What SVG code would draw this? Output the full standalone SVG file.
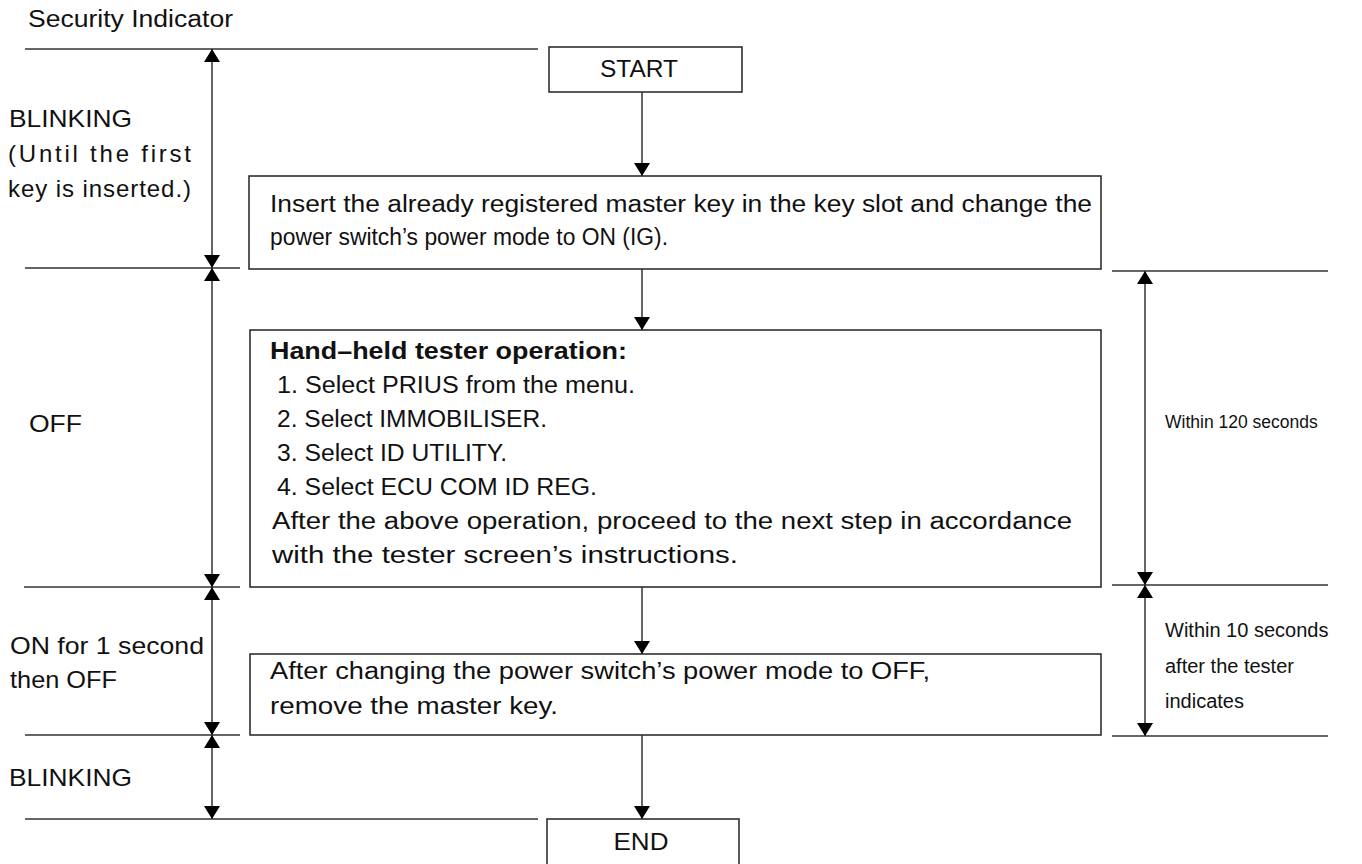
<svg xmlns="http://www.w3.org/2000/svg" width="1362" height="864" viewBox="0 0 1362 864">
<style>
text{font-family:"Liberation Sans",Arial,sans-serif;fill:#111}
.t{font-size:23px}
.l{font-size:24px}
.s{font-size:20px}
.b{font-weight:bold}
.box{fill:#fff;stroke:#222;stroke-width:1.5}
.ln{stroke:#333;stroke-width:1.5;fill:none}
</style>
<defs>
<marker id="ah" viewBox="0 0 13 16" refX="13" refY="8" markerWidth="13" markerHeight="16" markerUnits="userSpaceOnUse" orient="auto-start-reverse">
<path d="M0,0 L13,8 L0,16 Z" fill="#000"/>
</marker>
</defs>
<rect width="1362" height="864" fill="#fff"/>
<g id="labels">
<text class="t" x="28" y="27" textLength="205" lengthAdjust="spacingAndGlyphs">Security Indicator</text>
<text class="l" x="9" y="127" textLength="123" lengthAdjust="spacingAndGlyphs">BLINKING</text>
<text class="l" x="8" y="162" textLength="183" lengthAdjust="spacing">(Until the first</text>
<text class="l" x="8" y="197" textLength="183" lengthAdjust="spacing">key is inserted.)</text>
<text class="l" x="29" y="432" textLength="53" lengthAdjust="spacingAndGlyphs">OFF</text>
<text class="l" x="10" y="654" textLength="194" lengthAdjust="spacingAndGlyphs">ON for 1 second</text>
<text class="l" x="10" y="688" textLength="107" lengthAdjust="spacingAndGlyphs">then OFF</text>
<text class="l" x="9" y="786" textLength="123" lengthAdjust="spacingAndGlyphs">BLINKING</text>
<text class="s" x="1165" y="428" style="font-size:17.5px">Within 120 seconds</text>
<text class="s" x="1165" y="637">Within 10 seconds</text>
<text class="s" x="1165" y="673">after the tester</text>
<text class="s" x="1165" y="708">indicates</text>
</g>
<g id="guides">
<line class="ln" x1="25" y1="49" x2="538" y2="49"/>
<line class="ln" x1="25" y1="268" x2="240" y2="268"/>
<line class="ln" x1="24" y1="587" x2="240" y2="587"/>
<line class="ln" x1="25" y1="735" x2="240" y2="735"/>
<line class="ln" x1="25" y1="819" x2="538" y2="819"/>
<line class="ln" x1="1112" y1="271" x2="1328" y2="271"/>
<line class="ln" x1="1112" y1="585" x2="1328" y2="585"/>
<line class="ln" x1="1112" y1="736" x2="1328" y2="736"/>
</g>
<g id="start">
<rect class="box" x="549" y="47" width="193" height="45"/>
<text class="t" x="639" y="77" text-anchor="middle" textLength="78" lengthAdjust="spacingAndGlyphs">START</text>
</g>
<g id="step1">
<rect class="box" x="249" y="176" width="852" height="93"/>
<text class="t" x="270" y="212" textLength="822" lengthAdjust="spacingAndGlyphs">Insert the already registered master key in the key slot and change the</text>
<text class="t" x="270" y="245" textLength="398" lengthAdjust="spacingAndGlyphs">power switch’s power mode to ON (IG).</text>
</g>
<g id="step2">
<rect class="box" x="250" y="330" width="851" height="257"/>
<text class="t b" x="270" y="359" textLength="357" lengthAdjust="spacingAndGlyphs">Hand–held tester operation:</text>
<text class="t" x="277" y="393" textLength="358" lengthAdjust="spacingAndGlyphs">1. Select PRIUS from the menu.</text>
<text class="t" x="277" y="427" textLength="270" lengthAdjust="spacingAndGlyphs">2. Select IMMOBILISER.</text>
<text class="t" x="277" y="461" textLength="230" lengthAdjust="spacingAndGlyphs">3. Select ID UTILITY.</text>
<text class="t" x="277" y="495" textLength="320" lengthAdjust="spacingAndGlyphs">4. Select ECU COM ID REG.</text>
<text class="t" x="272" y="529" textLength="800" lengthAdjust="spacingAndGlyphs">After the above operation, proceed to the next step in accordance</text>
<text class="t" x="272" y="563" textLength="466" lengthAdjust="spacingAndGlyphs">with the tester screen’s instructions.</text>
</g>
<g id="step3">
<rect class="box" x="250" y="654" width="851" height="81"/>
<text class="t" x="270" y="679" textLength="660" lengthAdjust="spacingAndGlyphs">After changing the power switch’s power mode to OFF,</text>
<text class="t" x="270" y="714" textLength="288" lengthAdjust="spacingAndGlyphs">remove the master key.</text>
</g>
<g id="end">
<rect class="box" x="547" y="819" width="192" height="50"/>
<text class="t" x="641" y="850" text-anchor="middle" textLength="55" lengthAdjust="spacingAndGlyphs">END</text>
</g>
<g id="connectors">
<line class="ln" x1="642" y1="92" x2="642" y2="176" marker-end="url(#ah)"/>
<line class="ln" x1="642" y1="269" x2="642" y2="330" marker-end="url(#ah)"/>
<line class="ln" x1="642" y1="587" x2="642" y2="654" marker-end="url(#ah)"/>
<line class="ln" x1="642" y1="735" x2="642" y2="819" marker-end="url(#ah)"/>
<line class="ln" x1="212" y1="49" x2="212" y2="268" marker-start="url(#ah)" marker-end="url(#ah)"/>
<line class="ln" x1="212" y1="268" x2="212" y2="587" marker-start="url(#ah)" marker-end="url(#ah)"/>
<line class="ln" x1="212" y1="587" x2="212" y2="735" marker-start="url(#ah)" marker-end="url(#ah)"/>
<line class="ln" x1="212" y1="735" x2="212" y2="819" marker-start="url(#ah)" marker-end="url(#ah)"/>
<line class="ln" x1="1145" y1="271" x2="1145" y2="585" marker-start="url(#ah)" marker-end="url(#ah)"/>
<line class="ln" x1="1145" y1="585" x2="1145" y2="736" marker-start="url(#ah)" marker-end="url(#ah)"/>
</g>
</svg>
